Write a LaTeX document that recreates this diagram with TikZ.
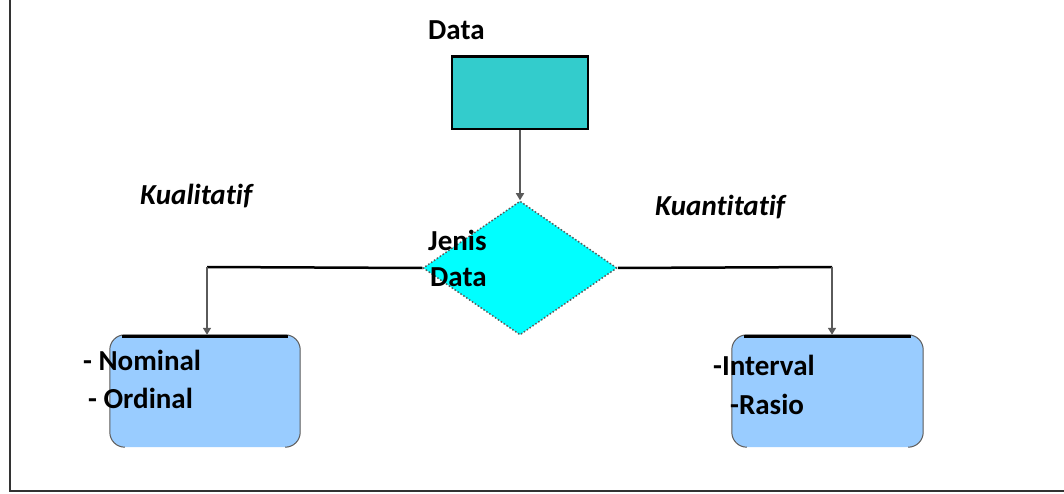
\documentclass[tikz,border=0pt]{standalone}
\usepackage{fontspec}
\setmainfont{Carlito}[Ligatures=NoCommon]
\usetikzlibrary{shapes.geometric,arrows.meta}
\definecolor{tealbox}{RGB}{51,204,204}
\definecolor{cyanfill}{RGB}{0,255,255}
\definecolor{bluebox}{RGB}{153,204,255}
\definecolor{edgegray}{RGB}{90,90,90}
\begin{document}
\begin{tikzpicture}[x=1pt,y=-1pt,
  lbl/.style={anchor=west,inner sep=0pt,font=\fontsize{29}{32}\selectfont\bfseries},
  ilbl/.style={lbl,font=\fontsize{29}{32}\selectfont\bfseries\itshape},
  databox/.style={rectangle,fill=tealbox,draw=black,line width=1.5pt,minimum width=136pt,minimum height=72pt,inner sep=0pt},
  decision/.style={diamond,fill=cyanfill,draw=edgegray,dotted,line width=1.5pt,minimum width=194pt,minimum height=134pt,inner sep=0pt},
  catbox/.style={rectangle,fill=bluebox,rounded corners=15pt,minimum height=112pt,inner sep=0pt},
  sideedge/.style={draw=edgegray,line width=1pt,rounded corners=15pt},
  topedge/.style={draw=black,line width=3pt},
  conn/.style={draw=edgegray,line width=1.5pt,-{Triangle[length=7pt,width=8pt]}},
  hline/.style={draw=black,line width=2.5pt}
]
\useasboundingbox (0,0) rectangle (1064,494);
\fill[white] (0,0) rectangle (1064,494);
% frame
\draw[line width=2pt,draw=black!80] (10,0) -- (10,491) -- (1064,491);

% nodes
\node[databox] (data) at (520,93) {};
\draw[topedge] (data.north west) -- (data.north east);
\node[decision] (jd) at (520,268) {};
\node[catbox,minimum width=190pt] (lbox) at (205,391) {};
\node[catbox,minimum width=191pt] (rbox) at (827.5,391) {};

\foreach \b in {lbox,rbox}{
  \draw[sideedge] ([xshift=15pt]\b.south west) -- (\b.south west) -- (\b.north west) -- (\b.north east) -- (\b.south east) -- ([xshift=-15pt]\b.south east);
  \draw[topedge] ([xshift=12pt,yshift=-1.5pt]\b.north west) -- ([xshift=-12pt,yshift=-1.5pt]\b.north east);
}

% connectors
\draw[conn] (data.south) -- (jd.north);
\coordinate (lc) at (207,267);
\coordinate (rc) at (832,267);
\draw[hline] (jd.west) -- (lc);
\draw[hline] (jd.east) -- (rc);
\draw[conn] (lc) -- (lc |- lbox.north);
\draw[conn] (rc) -- (rc |- rbox.north);

% labels
\node[lbl] (tdata) at (428,30) {Data};
\node[ilbl] (tkual) at (140,196) {Kualitatif};
\node[ilbl] (tkuan) at (655,207) {Kuantitatif};
\node[lbl] (tjenis) at (428,240) {Jenis};
\node[lbl] (tjd) at (430,277) {Data};
\node[lbl] (tnom) at (83,360) {- Nominal};
\node[lbl] (tord) at (88,398) {- Ordinal};
\node[lbl] (tint) at (713,365) {-Interval};
\node[lbl] (tras) at (730,404) {-Rasio};
\end{tikzpicture}
\end{document}
